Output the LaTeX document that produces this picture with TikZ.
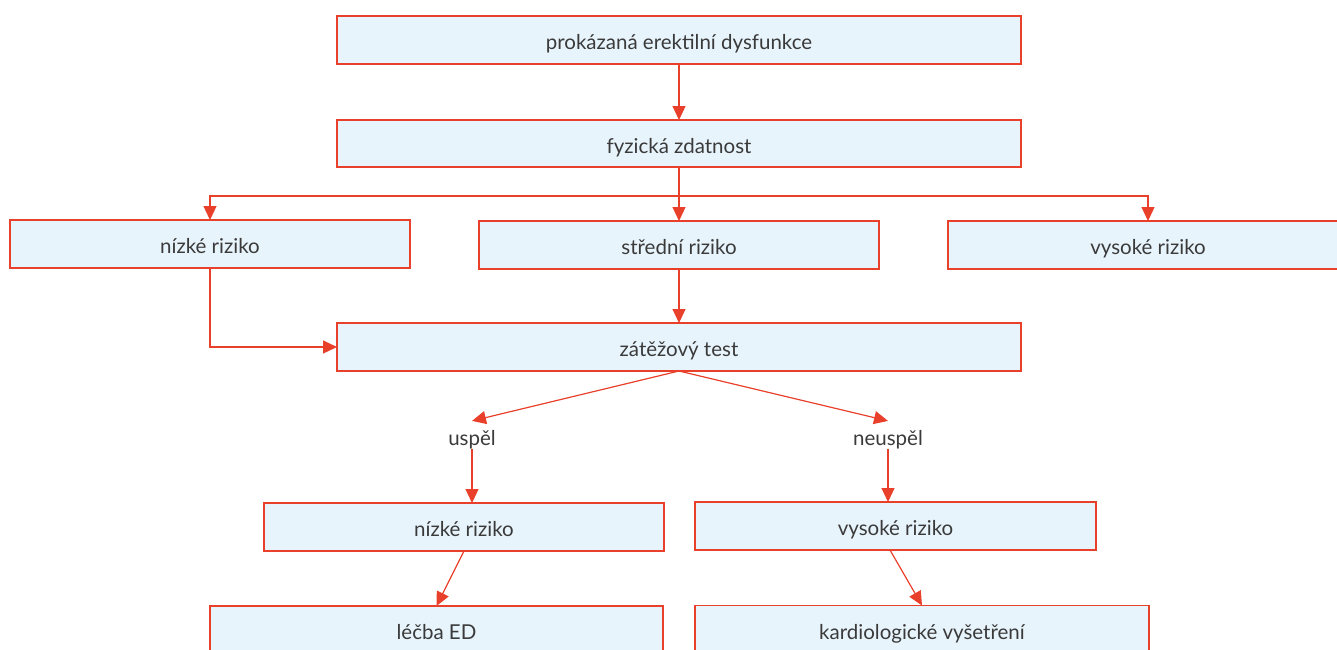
\documentclass[tikz,border=0pt]{standalone}
\usepackage{fontspec}
\setmainfont{Lato}
\usetikzlibrary{arrows.meta}
\definecolor{edge}{HTML}{E8402A}
\definecolor{boxfill}{HTML}{E8F4FC}
\definecolor{txt}{HTML}{3A3A3A}
\tikzset{
  box/.style={draw=edge, fill=boxfill, line width=1.2pt, rectangle, outer sep=0pt,
    minimum height=48pt, text height=21pt, text depth=2pt, text=txt,
    font=\fontsize{20.5}{22}\selectfont},
  lbl/.style={inner sep=0pt, outer sep=0pt, text=txt, font=\fontsize{20.5}{22}\selectfont},
  arr/.style={draw=edge, line width=1.2pt, -{Triangle[length=14pt,width=13pt]}},
}
\begin{document}
\begin{tikzpicture}[x=1pt,y=-1pt]
\useasboundingbox (0,0) rectangle (1337,649);
\begin{scope}
\clip (0,0) rectangle (1337,649);
\node[box, minimum width=684pt] (pe) at (679,40) {prokázaná erektilní dysfunkce};
\node[box, minimum width=684pt, minimum height=47pt] (fz) at (679,143.5) {fyzická zdatnost};
\node[box, minimum width=400pt] (n1) at (210,244) {nízké riziko};
\node[box, minimum width=400pt] (st) at (679,245) {střední riziko};
\node[box, minimum width=400pt] (v1) at (1148,245) {vysoké riziko};
\node[box, minimum width=684pt] (zt) at (679,347) {zátěžový test};
\node[lbl, anchor=base] (us) at (472,445) {uspěl};
\node[lbl, anchor=base] (nus) at (888,445) {neuspěl};
\node[box, minimum width=400pt] (n2) at (464,527) {nízké riziko};
\node[box, minimum width=401pt] (v2) at (895.5,526) {vysoké riziko};
\node[box, minimum width=453pt] (le) at (436.5,630) {léčba ED};
\node[box, minimum width=454pt] (ka) at (922,629.5) {kardiologické vyšetření};

\draw[arr] (pe.south) -- (fz.north);
\draw[arr] (fz.south) -- (st.north);
\draw[arr] (fz.south) -- ++(0,29) -| (n1.north);
\draw[arr] (fz.south) -- ++(0,29) -| (v1.north);
\draw[arr] (st.south) -- (zt.north);
\draw[arr] (n1.south) |- (zt.west);
\draw[arr] (zt.south) -- ([yshift=9pt]us.north);
\draw[arr] (zt.south) -- ([yshift=9pt]nus.north);
\draw[arr] (us.south) -- (us.south |- n2.north);
\draw[arr] (nus.south) -- (nus.south |- v2.north);
\draw[arr] (n2.south) -- (le.north);
\draw[arr] ([xshift=-5.5pt]v2.south) -- (ka.north);
\end{scope}
\end{tikzpicture}
\end{document}
